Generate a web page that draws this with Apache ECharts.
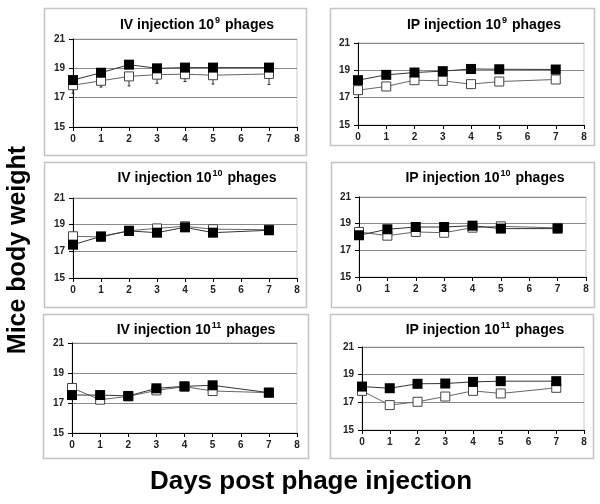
<!DOCTYPE html>
<html>
<head>
<meta charset="utf-8">
<script src="https://cdn.jsdelivr.net/npm/echarts@6/dist/echarts.min.js"></script>
<style>html,body{margin:0;padding:0;background:#fff;}#c{width:600px;height:504px;}</style>
</head>
<body>
<div id="c"></div>
<script>
// ---- data ----
const days = [0, 1, 2, 3, 4, 5, 7];
const yTicks = [15, 17, 19, 21];
const xTicks = [0, 1, 2, 3, 4, 5, 6, 7, 8];

const titlesMain = ['IV injection 10', 'IP injection 10', 'IV injection 10', 'IP injection 10', 'IV injection 10', 'IP injection 10'];
const titlesExp = ['9', '9', '10', '10', '11', '11'];

const iv9Filled  = [18.2, 18.7, 19.25, 19.0, 19.05, 19.05, 19.05];
const iv9Open    = [17.85, 18.15, 18.45, 18.57, 18.6, 18.53, 18.62];
const iv9OpenLow = [17.3, 17.72, 17.8, 17.98, 18.1, 17.93, 17.9];

const ip9Filled  = [18.28, 18.67, 18.84, 18.94, 19.1, 19.08, 19.06];
const ip9Open    = [17.55, 17.82, 18.28, 18.23, 17.99, 18.18, 18.33];

const iv10Filled = [17.5, 18.12, 18.53, 18.4, 18.8, 18.4, 18.58];
const iv10Open   = [18.13, 18.08, 18.55, 18.72, 18.88, 18.66, 18.62];

const ip10Filled = [18.13, 18.58, 18.75, 18.75, 18.85, 18.63, 18.63];
const ip10Open   = [18.38, 18.1, 18.38, 18.32, 18.7, 18.8, 18.68];

const iv11Filled = [17.53, 17.53, 17.47, 17.98, 18.11, 18.18, 17.69];
const iv11Open   = [18.0, 17.22, 17.44, 17.84, 18.09, 17.8, 17.69];

const ip11Filled = [18.14, 18.02, 18.34, 18.36, 18.48, 18.53, 18.53];
const ip11Open   = [17.83, 16.8, 17.04, 17.42, 17.83, 17.64, 18.05];

const filledSets = [iv9Filled, ip9Filled, iv10Filled, ip10Filled, iv11Filled, ip11Filled];
const openSets = [iv9Open, ip9Open, iv10Open, ip10Open, iv11Open, ip11Open];
const openLowSets = [iv9OpenLow, null, null, null, null, null];

// ---- layout ----
const grids = [
  {left: 73, top: 39, width: 224, height: 88},
  {left: 358, top: 43, width: 226, height: 82},
  {left: 73, top: 198, width: 224, height: 80},
  {left: 359, top: 197, width: 227, height: 80},
  {left: 72, top: 343, width: 225, height: 90},
  {left: 362, top: 347, width: 222, height: 83}
];
const boxes = [
  [44, 8, 262, 147],
  [330, 8, 264, 137],
  [44, 162, 262, 145],
  [331, 162, 263, 145],
  [43, 314, 265, 144],
  [330, 314, 263, 144]
];
const titlePos = [[192, 11], [479, 11], [192, 164], [480, 164], [191, 316], [480, 316]];

const labelFont = {fontFamily: 'Liberation Sans, Arial, sans-serif', fontWeight: 'bold', fontSize: 10, color: '#222'};

const option = {
  animation: false,
  backgroundColor: '#fff',
  title: titlePos.map((p, i) => ({
    left: p[0], top: p[1], textAlign: 'center',
    text: '{a|' + titlesMain[i] + '}{s|' + titlesExp[i] + '}{a| phages}',
    textStyle: {
      rich: {
        a: {fontFamily: 'Liberation Sans, Arial, sans-serif', fontWeight: 'bold', fontSize: 14, color: '#000', lineHeight: 18},
        s: {fontFamily: 'Liberation Sans, Arial, sans-serif', fontWeight: 'bold', fontSize: 9, color: '#000', lineHeight: 9, verticalAlign: 'top', padding: [0, 1, 0, 1]}
      }
    }
  })),
  grid: grids.map(g => Object.assign({show: true, borderColor: '#c8c8c8', borderWidth: 1, backgroundColor: 'transparent'}, g)),
  xAxis: grids.map((g, i) => ({
    gridIndex: i, type: 'value', min: xTicks[0], max: xTicks[xTicks.length - 1], interval: 1,
    axisLine: {show: true, onZero: false, lineStyle: {color: '#000', width: 1}},
    axisTick: {show: true, inside: false, length: 4, lineStyle: {color: '#000'}},
    axisLabel: Object.assign({margin: 7}, labelFont),
    splitLine: {show: false}
  })),
  yAxis: grids.map((g, i) => ({
    gridIndex: i, type: 'value', min: yTicks[0], max: yTicks[yTicks.length - 1], interval: 2,
    axisLine: {show: true, onZero: false, lineStyle: {color: '#000', width: 1}},
    axisTick: {show: true, inside: false, length: 4, lineStyle: {color: '#000'}},
    axisLabel: Object.assign({margin: 8}, labelFont),
    splitLine: {show: true, lineStyle: {color: '#8a8a8a', width: 1}}
  })),
  graphic: [
    ...boxes.map(b => ({type: 'rect', shape: {x: b[0] + 0.5, y: b[1] + 0.5, width: b[2], height: b[3]}, style: {fill: 'none', stroke: '#c4c4c4', lineWidth: 1.5}, z: 0})),
    {type: 'text', x: 18, y: 250, rotation: Math.PI / 2, style: {text: 'Mice body weight', fontFamily: 'Liberation Sans, Arial, sans-serif', fontWeight: 'bold', fontSize: 25, fill: '#000', align: 'center', verticalAlign: 'middle'}},
    {type: 'text', x: 311, y: 482, style: {text: 'Days post phage injection', fontFamily: 'Liberation Sans, Arial, sans-serif', fontWeight: 'bold', fontSize: 26, fill: '#000', align: 'center', verticalAlign: 'middle'}}
  ],
  series: []
};

for (let i = 0; i < 6; i++) {
  const low = openLowSets[i];
  if (low) {
    option.series.push({
      type: 'custom', xAxisIndex: i, yAxisIndex: i, z: 2,
      data: days.map((d, k) => [d, openSets[i][k], low[k]]),
      renderItem: function (params, api) {
        const top = api.coord([api.value(0), api.value(1)]);
        const bot = api.coord([api.value(0), api.value(2)]);
        return {
          type: 'group',
          children: [
            {type: 'line', shape: {x1: top[0], y1: top[1], x2: bot[0], y2: bot[1]}, style: {stroke: '#333', lineWidth: 1}},
            {type: 'line', shape: {x1: bot[0] - 1.5, y1: bot[1], x2: bot[0] + 1.5, y2: bot[1]}, style: {stroke: '#333', lineWidth: 1}}
          ]
        };
      }
    });
  }
  option.series.push({
    type: 'line', xAxisIndex: i, yAxisIndex: i, z: 3,
    data: days.map((d, k) => [d, openSets[i][k]]),
    symbol: 'rect', symbolSize: 9, showAllSymbol: true,
    lineStyle: {color: '#666', width: 1},
    itemStyle: {color: '#fff', borderColor: '#444', borderWidth: 1},
    emphasis: {disabled: true}
  });
  option.series.push({
    type: 'line', xAxisIndex: i, yAxisIndex: i, z: 4,
    data: days.map((d, k) => [d, filledSets[i][k]]),
    symbol: 'rect', symbolSize: 10, showAllSymbol: true,
    lineStyle: {color: '#333', width: 1},
    itemStyle: {color: '#000', borderColor: '#000', borderWidth: 0},
    emphasis: {disabled: true}
  });
}

const chart = echarts.init(document.getElementById('c'), null, {renderer: 'canvas'});
chart.setOption(option);
</script>
</body>
</html>
